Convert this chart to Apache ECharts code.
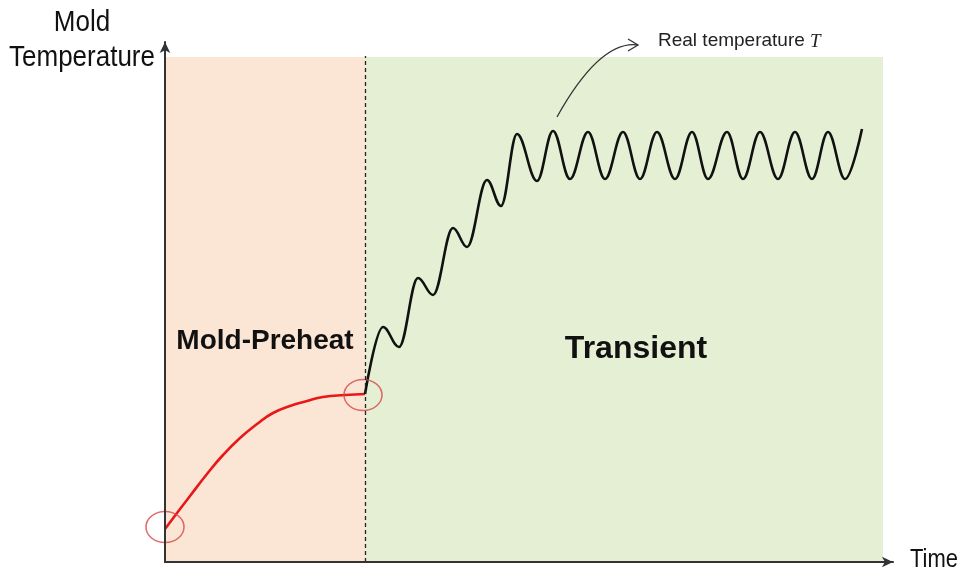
<!DOCTYPE html>
<html>
<head>
<meta charset="utf-8">
<script src="https://cdn.jsdelivr.net/npm/echarts@6/dist/echarts.min.js"></script>
<style>html,body{margin:0;padding:0;background:#fff;}#c{width:964px;height:573px;}</style>
</head>
<body>
<div id="c"></div>
<script>
// ---- data (time units, temperature units) ----
const preheatCurve = [[0,33],[12,49],[25,66],[42,88],[58,107],[75,124],[92,138],[108,149],[125,156],[142,161],[158,165],[180,167],[200,168]];
const realTemperature = [
  [200,168],[218,235],[234,215],[253,284],[268,267],[288,334],[302,315],[322,382],[336,356],
  [352,428],[372,381],[388,431],[405,383],[423,430],[440,383],[458,430],[475,383],[492,430],
  [510,383],[527,430],[543,383],[562,430],[578,383],[595,430],[613,383],[630,430],[647,383],
  [663,430],[680,383],[697,433]
];
const keyPoints = [[0,35],[198,167]];
const preheatRange = [0,200];
const transientRange = [200,718];
const regionTop = 505;
const axisMaxX = 728, axisMaxY = 520;

const chart = echarts.init(document.getElementById('c'));
const axisCommon = {
  type:'value', min:0, z:10,
  axisLine:{show:true, onZero:false, symbol:['none','arrow'], symbolSize:[8,11], lineStyle:{color:'#333', width:2}},
  axisTick:{show:false}, axisLabel:{show:false}, splitLine:{show:false}
};
const FONT = '"Liberation Sans", Arial, sans-serif';
chart.setOption({
  animation:false,
  grid:{left:165, right:71, top:42, bottom:11},
  xAxis:Object.assign({}, axisCommon, {max:axisMaxX}),
  yAxis:Object.assign({}, axisCommon, {max:axisMaxY}),
  series:[
    {
      type:'line', data:[], silent:true, z:1,
      markArea:{silent:true, data:[
        [{coord:[preheatRange[0],0], itemStyle:{color:'#fbe6d5'}},{coord:[preheatRange[1],regionTop]}],
        [{coord:[transientRange[0],0], itemStyle:{color:'#e5efd4'}},{coord:[transientRange[1],regionTop]}]
      ]},
      markLine:{silent:true, symbol:['none','none'], label:{show:false},
        lineStyle:{color:'#222', type:[4,3], width:1.3},
        data:[[{coord:[preheatRange[1],0]},{coord:[preheatRange[1],regionTop+1]}]]}
    },
    {
      type:'line', data:preheatCurve, smooth:0.5, symbol:'none', z:3,
      lineStyle:{color:'#e81818', width:2.6}
    },
    {
      type:'line', data:realTemperature, smooth:0.38, smoothMonotone:'x', symbol:'none', z:3,
      lineStyle:{color:'#111', width:2.6}
    },
    {
      type:'scatter', data:keyPoints, symbol:'circle', symbolSize:[38,31], z:4,
      itemStyle:{color:'rgba(0,0,0,0)', borderColor:'#d9464a', borderWidth:1.4}
    }
  ],
  graphic:[
    {type:'text', x:82, y:23, scaleY:1.15, style:{text:'Mold', font:'26px '+FONT, fill:'#111', textAlign:'center', textVerticalAlign:'middle'}},
    {type:'text', x:82, y:58, scaleY:1.15, style:{text:'Temperature', font:'26px '+FONT, fill:'#111', textAlign:'center', textVerticalAlign:'middle'}},
    {type:'text', x:910, y:560, scaleY:1.15, style:{text:'Time', font:'22px '+FONT, fill:'#111', textAlign:'left', textVerticalAlign:'middle'}},
    {type:'text', x:265, y:341, z:20, style:{text:'Mold-Preheat', font:'bold 28px '+FONT, fill:'#111', textAlign:'center', textVerticalAlign:'middle'}},
    {type:'text', x:636, y:349, z:20, style:{text:'Transient', font:'bold 32px '+FONT, fill:'#111', textAlign:'center', textVerticalAlign:'middle'}},
    {type:'text', x:658, y:41, z:20, style:{text:'Real temperature', font:'19px '+FONT, fill:'#222', textAlign:'left', textVerticalAlign:'middle'}},
    {type:'text', x:810, y:42, z:20, style:{text:'T', font:'italic 19px "Liberation Serif", "Times New Roman", serif', fill:'#222', textAlign:'left', textVerticalAlign:'middle'}},
    {type:'bezierCurve', z:20, shape:{x1:557, y1:117, x2:638, y2:45, cpx1:600, cpy1:40}, style:{stroke:'#333', lineWidth:1.3, fill:null}},
    {type:'polyline', z:20, shape:{points:[[628,39],[638,45],[628,51]]}, style:{stroke:'#333', lineWidth:1.3, fill:null}}
  ]
});
</script>
</body>
</html>
